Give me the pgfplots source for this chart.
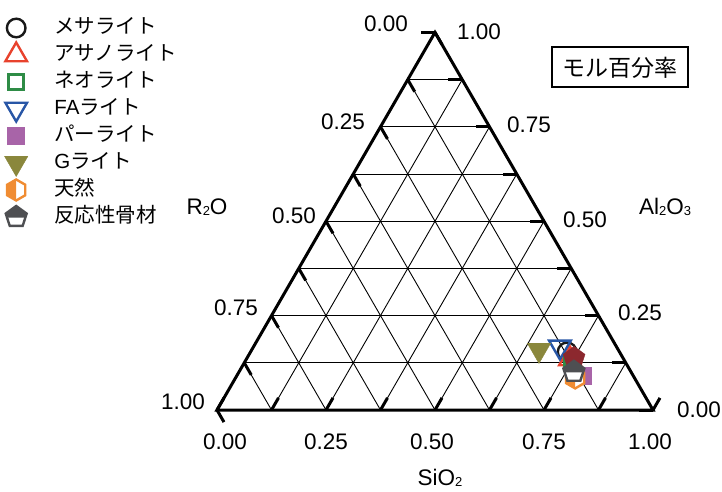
\documentclass[border=0pt]{standalone}
\usepackage{pgfplots}
\pgfplotsset{compat=1.18}
\usepackage{pgfplotstable}
\usepackage{fontspec}
\setmainfont{Liberation Sans}
\newfontfamily\jp{Noto Sans CJK JP}

\definecolor{cMesa}{RGB}{25,25,25}
\definecolor{cAsano}{RGB}{232,66,45}
\definecolor{cNeo}{RGB}{46,140,70}
\definecolor{cFA}{RGB}{40,86,166}
\definecolor{cPer}{RGB}{168,100,168}
\definecolor{cG}{RGB}{138,135,60}
\definecolor{cTen}{RGB}{240,140,50}
\definecolor{cHan}{RGB}{78,79,82}
\definecolor{cOver}{RGB}{140,40,46}

% hexagon, left half filled
\pgfdeclareplotmark{halfhex}{%
  \begin{pgfscope}
    \pgfsetfillcolor{white}
    \pgfpathmoveto{\pgfpointpolar{90}{\pgfplotmarksize}}
    \pgfpathlineto{\pgfpointpolar{150}{\pgfplotmarksize}}
    \pgfpathlineto{\pgfpointpolar{210}{\pgfplotmarksize}}
    \pgfpathlineto{\pgfpointpolar{270}{\pgfplotmarksize}}
    \pgfpathlineto{\pgfpointpolar{330}{\pgfplotmarksize}}
    \pgfpathlineto{\pgfpointpolar{30}{\pgfplotmarksize}}
    \pgfpathclose
    \pgfusepath{fill}
  \end{pgfscope}
  \pgfpathmoveto{\pgfpointpolar{90}{\pgfplotmarksize}}
  \pgfpathlineto{\pgfpointpolar{150}{\pgfplotmarksize}}
  \pgfpathlineto{\pgfpointpolar{210}{\pgfplotmarksize}}
  \pgfpathlineto{\pgfpointpolar{270}{\pgfplotmarksize}}
  \pgfpathclose
  \pgfusepath{fill}
  \pgfpathmoveto{\pgfpointpolar{90}{\pgfplotmarksize}}
  \pgfpathlineto{\pgfpointpolar{150}{\pgfplotmarksize}}
  \pgfpathlineto{\pgfpointpolar{210}{\pgfplotmarksize}}
  \pgfpathlineto{\pgfpointpolar{270}{\pgfplotmarksize}}
  \pgfpathlineto{\pgfpointpolar{330}{\pgfplotmarksize}}
  \pgfpathlineto{\pgfpointpolar{30}{\pgfplotmarksize}}
  \pgfpathclose
  \pgfusepath{stroke}
}

% pentagon, upper half filled
\pgfdeclareplotmark{halfpent}{%
  \begin{pgfscope}
    \pgfsetfillcolor{white}
    \pgfpathmoveto{\pgfpointpolar{90}{\pgfplotmarksize}}
    \pgfpathlineto{\pgfpointpolar{162}{\pgfplotmarksize}}
    \pgfpathlineto{\pgfpointpolar{234}{\pgfplotmarksize}}
    \pgfpathlineto{\pgfpointpolar{306}{\pgfplotmarksize}}
    \pgfpathlineto{\pgfpointpolar{18}{\pgfplotmarksize}}
    \pgfpathclose
    \pgfusepath{fill}
  \end{pgfscope}
  \pgfpathmoveto{\pgfpointpolar{90}{\pgfplotmarksize}}
  \pgfpathlineto{\pgfpointpolar{162}{\pgfplotmarksize}}
  \pgfpathlineto{\pgfpoint{-0.851\pgfplotmarksize}{-0.05\pgfplotmarksize}}
  \pgfpathlineto{\pgfpoint{0.851\pgfplotmarksize}{-0.05\pgfplotmarksize}}
  \pgfpathlineto{\pgfpointpolar{18}{\pgfplotmarksize}}
  \pgfpathclose
  \pgfusepath{fill}
  \pgfpathmoveto{\pgfpointpolar{90}{\pgfplotmarksize}}
  \pgfpathlineto{\pgfpointpolar{162}{\pgfplotmarksize}}
  \pgfpathlineto{\pgfpointpolar{234}{\pgfplotmarksize}}
  \pgfpathlineto{\pgfpointpolar{306}{\pgfplotmarksize}}
  \pgfpathlineto{\pgfpointpolar{18}{\pgfplotmarksize}}
  \pgfpathclose
  \pgfusepath{stroke}
}

% compositions (mole fractions): SiO2, Al2O3, R2O
\pgfplotstableread{
SiO2 Al2O3 R2O
0.726 0.154 0.120
}\mesa
\pgfplotstableread{
SiO2 Al2O3 R2O
0.742 0.135 0.123
}\asano
\pgfplotstableread{
SiO2 Al2O3 R2O
0.749 0.130 0.121
}\neo
\pgfplotstableread{
SiO2 Al2O3 R2O
0.703 0.167 0.130
}\fa
\pgfplotstableread{
SiO2 Al2O3 R2O
0.794 0.090 0.116
}\per
\pgfplotstableread{
SiO2 Al2O3 R2O
0.659 0.159 0.182
}\gl
\pgfplotstableread{
SiO2 Al2O3 R2O
0.779 0.085 0.136
}\ten
\pgfplotstableread{
SiO2 Al2O3 R2O
0.750 0.138 0.112
}\over
\pgfplotstableread{
SiO2 Al2O3 R2O
0.768 0.101 0.131
}\han

\pgfplotsset{
  tern/.style={only marks, line width=2.4pt},
}

\begin{document}
\begin{tikzpicture}
% triangle grid (SiO2 along x, Al2O3 along the upper direction)
\begin{scope}[shift={(217pt,81pt)}, x={(436pt,0pt)}, y={(218pt,377.587pt)}]
  \foreach \k in {1,...,7} {
    \pgfmathsetmacro\t{\k/8}
    \draw[line width=0.9pt] (0,\t) -- ({1-\t},\t);
    \draw[line width=0.9pt] (\t,0) -- (\t,{1-\t});
    \draw[line width=0.9pt] ({1-\t},0) -- (0,{1-\t});
  }
  \foreach \k in {0,...,8} {
    \pgfmathsetmacro\t{\k/8}
    \draw[line width=3pt] (\t,0) -- (\t,0.032);
    \draw[line width=3pt] ({1-\t},\t) -- ({1-\t-0.032},\t);
    \draw[line width=3pt] (0,{1-\t}) -- (0.032,{1-\t-0.032});
  }
  \draw[line width=3pt] (0,0) -- (1,0) -- (0,1) -- cycle;
\end{scope}

\begin{axis}[
  at={(0pt,0pt)}, anchor=south west,
  x=436pt, y=436pt,
  xmin=-0.49771, xmax=1.15826, ymin=-0.18578, ymax=0.94037,
  hide axis, clip=false,
  legend cell align=left,
  legend image code/.code={\path (-15pt,-6pt) (37pt,6pt); \draw[#1,overlay] plot coordinates {(0pt,0pt)};},
  legend style={at={(axis description cs:0,1)}, anchor=north west,
    yshift=-18pt, draw=none, fill=none, inner sep=0pt, outer sep=0pt,
    row sep=7pt, column sep=0pt, font=\fontsize{20.5}{24}\jp,
    nodes={inner sep=0pt, text height=16pt, text depth=4pt}},
]
\addplot[tern, mark=o, mark size=9.3pt, color=cMesa]
  table[x expr={\thisrow{SiO2}+0.5*\thisrow{Al2O3}}, y expr={0.8660254*\thisrow{Al2O3}}] {\mesa};
\addlegendentry{メサライト}
\addplot[tern, mark=triangle, mark size=12.5pt, color=cAsano]
  table[x expr={\thisrow{SiO2}+0.5*\thisrow{Al2O3}}, y expr={0.8660254*\thisrow{Al2O3}}] {\asano};
\addlegendentry{アサノライト}
\addplot[tern, mark=square, mark size=7.5pt, color=cNeo]
  table[x expr={\thisrow{SiO2}+0.5*\thisrow{Al2O3}}, y expr={0.8660254*\thisrow{Al2O3}}] {\neo};
\addlegendentry{ネオライト}
\addplot[tern, mark=triangle, mark size=12.5pt, mark options={rotate=180}, color=cFA]
  table[x expr={\thisrow{SiO2}+0.5*\thisrow{Al2O3}}, y expr={0.8660254*\thisrow{Al2O3}}] {\fa};
\addlegendentry{{\rmfamily FA}ライト}
\addplot[only marks, mark=square*, mark size=8.5pt, color=cPer]
  table[x expr={\thisrow{SiO2}+0.5*\thisrow{Al2O3}}, y expr={0.8660254*\thisrow{Al2O3}}] {\per};
\addlegendentry{パーライト}
\addplot[only marks, mark=triangle*, mark size=13.5pt, mark options={rotate=180}, color=cG]
  table[x expr={\thisrow{SiO2}+0.5*\thisrow{Al2O3}}, y expr={0.8660254*\thisrow{Al2O3}}] {\gl};
\addlegendentry{{\rmfamily G}ライト}
\addplot[tern, mark=halfhex, mark size=10.5pt, color=cTen]
  table[x expr={\thisrow{SiO2}+0.5*\thisrow{Al2O3}}, y expr={0.8660254*\thisrow{Al2O3}}] {\ten};
\addlegendentry{天然}
\addplot[only marks, forget plot, mark=pentagon*, mark size=11.5pt, color=cOver]
  table[x expr={\thisrow{SiO2}+0.5*\thisrow{Al2O3}}, y expr={0.8660254*\thisrow{Al2O3}}] {\over};
\addplot[tern, mark=halfpent, mark size=11pt, color=cHan]
  table[x expr={\thisrow{SiO2}+0.5*\thisrow{Al2O3}}, y expr={0.8660254*\thisrow{Al2O3}}] {\han};
\addlegendentry{反応性骨材}
\end{axis}

% tick labels and titles
\begin{scope}[shift={(0pt,491pt)}, x=1pt, y=-1pt,
  every node/.style={inner sep=0pt, font=\fontsize{22.5}{27}\selectfont}]
  \node at (225,442) {0.00};
  \node at (326,442) {0.25};
  \node at (432,442) {0.50};
  \node at (544,442) {0.75};
  \node at (650,442) {1.00};
  \node[anchor=east] at (205,402) {1.00};
  \node[anchor=east] at (258,308) {0.75};
  \node[anchor=east] at (316,216) {0.50};
  \node[anchor=east] at (365,122) {0.25};
  \node[anchor=east] at (408,24) {0.00};
  \node[anchor=west] at (457,32) {1.00};
  \node[anchor=west] at (507,125) {0.75};
  \node[anchor=west] at (563,220) {0.50};
  \node[anchor=west] at (618,313) {0.25};
  \node[anchor=west] at (677,410) {0.00};
  \node at (207,207) {R{\fontsize{13}{13}\selectfont\raisebox{-1.5pt}{2}}O};
  \node at (665,207) {Al{\fontsize{13}{13}\selectfont\raisebox{-1.5pt}{2}}O{\fontsize{13}{13}\selectfont\raisebox{-1.5pt}{3}}};
  \node at (440,478) {SiO{\fontsize{13}{13}\selectfont\raisebox{-1.5pt}{2}}};
  \draw[line width=1.2pt] (552,47) rectangle (688,87);
  \node[font=\fontsize{23}{23}\jp] at (620,67.5) {モル百分率};
\end{scope}
\pgfresetboundingbox
\useasboundingbox (0pt,0pt) rectangle (722pt,491pt);
\end{tikzpicture}
\end{document}
